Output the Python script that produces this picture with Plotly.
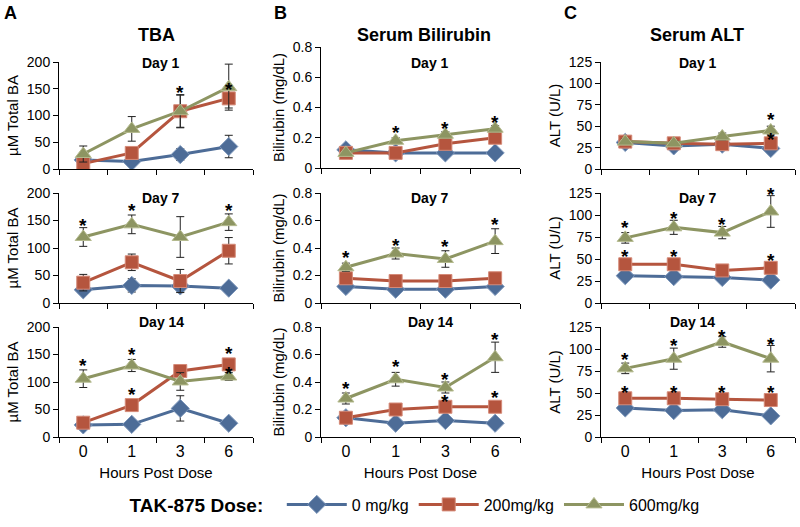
import plotly.graph_objects as go

W, H = 800, 527
hours = ["0", "1", "3", "6"]
doses = ["0 mg/kg", "200mg/kg", "600mg/kg"]

# ---- TBA (µM) ----
tba_d1_0 = [17, 14, 27, 42];    tba_d1_0_err = [8, 4, 11, 21]
tba_d1_200 = [10, 30, 108, 132]; tba_d1_200_err = [4, 6, 30, 18]
tba_d1_600 = [28, 75, 108, 153]; tba_d1_600_err = [15, 23, 31, 43]
tba_d1_stars = [("3", 150), ("6", 157)]

tba_d7_0 = [24, 32, 31, 27];     tba_d7_0_err = [7, 12, 11, 5]
tba_d7_200 = [37, 74, 40, 95];   tba_d7_200_err = [15, 15, 21, 24]
tba_d7_600 = [120, 143, 120, 147]; tba_d7_600_err = [17, 17, 37, 15]
tba_d7_stars = [("0", 148), ("1", 175), ("6", 175)]

tba_d14_0 = [22, 23, 52, 25];    tba_d14_0_err = [3, 3, 23, 4]
tba_d14_200 = [26, 58, 120, 132]; tba_d14_200_err = [5, 6, 5, 8]
tba_d14_600 = [106, 130, 101, 110]; tba_d14_600_err = [16, 11, 16, 7]
tba_d14_stars = [("0", 137), ("1", 158), ("6", 123), ("1", 85), ("6", 159)]

# ---- Serum bilirubin (mg/dL) ----
bil_d1_0 = [0.12, 0.10, 0.10, 0.10];   bil_d1_0_err = [0.01, 0.01, 0.01, 0.01]
bil_d1_200 = [0.10, 0.10, 0.16, 0.20]; bil_d1_200_err = [0.01, 0.01, 0.02, 0.02]
bil_d1_600 = [0.10, 0.18, 0.22, 0.26]; bil_d1_600_err = [0.01, 0.02, 0.02, 0.02]
bil_d1_stars = [("1", 0.26), ("3", 0.29), ("6", 0.33)]

bil_d7_0 = [0.12, 0.10, 0.10, 0.12];   bil_d7_0_err = [0.01, 0.01, 0.01, 0.01]
bil_d7_200 = [0.18, 0.16, 0.16, 0.18]; bil_d7_200_err = [0.01, 0.01, 0.01, 0.01]
bil_d7_600 = [0.26, 0.36, 0.32, 0.45]; bil_d7_600_err = [0.03, 0.04, 0.06, 0.09]
bil_d7_stars = [("0", 0.36), ("1", 0.45), ("3", 0.44), ("6", 0.60)]

bil_d14_0 = [0.14, 0.10, 0.12, 0.10];   bil_d14_0_err = [0.01, 0.01, 0.01, 0.01]
bil_d14_200 = [0.14, 0.20, 0.22, 0.22]; bil_d14_200_err = [0.02, 0.01, 0.01, 0.01]
bil_d14_600 = [0.28, 0.42, 0.36, 0.58]; bil_d14_600_err = [0.04, 0.05, 0.04, 0.11]
bil_d14_stars = [("0", 0.38), ("1", 0.54), ("3", 0.45), ("6", 0.74), ("3", 0.29), ("6", 0.32)]

# ---- Serum ALT (U/L) ----
alt_d1_0 = [31, 27, 29, 24];   alt_d1_0_err = [2, 2, 2, 2]
alt_d1_200 = [32, 30, 29, 30]; alt_d1_200_err = [2, 2, 2, 2]
alt_d1_600 = [32, 30, 38, 45]; alt_d1_600_err = [3, 3, 4, 5]
alt_d1_stars = [("6", 63), ("6", 39)]

alt_d7_0 = [31, 30, 29, 26];   alt_d7_0_err = [2, 2, 2, 2]
alt_d7_200 = [44, 44, 37, 40]; alt_d7_200_err = [3, 3, 3, 3]
alt_d7_600 = [74, 86, 80, 104]; alt_d7_600_err = [6, 8, 7, 18]
alt_d7_stars = [("0", 90), ("1", 101), ("3", 94), ("6", 128), ("0", 57), ("1", 57), ("6", 53)]

alt_d14_0 = [33, 30, 31, 24];   alt_d14_0_err = [2, 2, 2, 2]
alt_d14_200 = [44, 44, 43, 42]; alt_d14_200_err = [2, 2, 2, 2]
alt_d14_600 = [78, 89, 108, 89]; alt_d14_600_err = [6, 12, 6, 15]
alt_d14_stars = [("0", 93), ("1", 108), ("3", 119), ("6", 110),
                 ("0", 55), ("1", 55), ("3", 55), ("6", 55)]

panels = [
    ([tba_d1_0, tba_d1_200, tba_d1_600], [tba_d1_0_err, tba_d1_200_err, tba_d1_600_err], tba_d1_stars),
    ([bil_d1_0, bil_d1_200, bil_d1_600], [bil_d1_0_err, bil_d1_200_err, bil_d1_600_err], bil_d1_stars),
    ([alt_d1_0, alt_d1_200, alt_d1_600], [alt_d1_0_err, alt_d1_200_err, alt_d1_600_err], alt_d1_stars),
    ([tba_d7_0, tba_d7_200, tba_d7_600], [tba_d7_0_err, tba_d7_200_err, tba_d7_600_err], tba_d7_stars),
    ([bil_d7_0, bil_d7_200, bil_d7_600], [bil_d7_0_err, bil_d7_200_err, bil_d7_600_err], bil_d7_stars),
    ([alt_d7_0, alt_d7_200, alt_d7_600], [alt_d7_0_err, alt_d7_200_err, alt_d7_600_err], alt_d7_stars),
    ([tba_d14_0, tba_d14_200, tba_d14_600], [tba_d14_0_err, tba_d14_200_err, tba_d14_600_err], tba_d14_stars),
    ([bil_d14_0, bil_d14_200, bil_d14_600], [bil_d14_0_err, bil_d14_200_err, bil_d14_600_err], bil_d14_stars),
    ([alt_d14_0, alt_d14_200, alt_d14_600], [alt_d14_0_err, alt_d14_200_err, alt_d14_600_err], alt_d14_stars),
]

col_titles = ["TBA", "Serum Bilirubin", "Serum ALT"]
col_letters = ["A", "B", "C"]
y_titles = ["µM Total BA", "Bilirubin (mg/dL)", "ALT (U/L)"]
y_ranges = [[0, 200], [0, 0.8], [0, 125]]
y_dticks = [50, 0.2, 25]
day_labels = ["Day 1", "Day 7", "Day 14"]

colors = ["#4d6c97", "#b5553e", "#8d9562"]
edge = ["#7d97bb", "#d58a78", "#b4ba8e"]
symbols = ["diamond", "square", "triangle-up"]
sizes = [14, 13, 14]

# layout geometry (pixels)
col_x = [(59, 253), (321, 520), (601, 795)]
row_y = [(62, 169), (193, 303), (327, 437)]
row0_b = (47, 168)
day_x = [161, 430, 698]
day_x_row3_c = 692
day_y = [63, 198, 322]
title_x = [156, 424, 697]
title_y = 35
letter_x = [10, 280, 570]
letter_y = 13

FONT = "Liberation Sans, Arial, sans-serif"
fig = go.Figure()
annotations = []

def txt(x, y, s, size, **kw):
    d = dict(x=x / W, y=1 - y / H, xref="paper", yref="paper", text=s, showarrow=False,
             xanchor="center", yanchor="middle",
             font=dict(family=FONT, size=size, color="#000"))
    d.update(kw)
    return d

for k, (vals, errs, stars) in enumerate(panels):
    r, c = divmod(k, 3)
    ax = "" if k == 0 else str(k + 1)
    for i in range(3):
        fig.add_trace(go.Scatter(
            x=hours, y=vals[i], xaxis="x" + ax, yaxis="y" + ax,
            mode="lines+markers", name=doses[i], legendgroup=doses[i],
            showlegend=(k == 0),
            line=dict(color=colors[i], width=3),
            marker=dict(symbol=symbols[i], size=sizes[i], color=colors[i],
                        line=dict(color=edge[i], width=1)),
            error_y=dict(type="data", array=errs[i], visible=True,
                         color="#222222", thickness=1, width=4),
        ))
    x0, x1 = col_x[c]
    y0, y1 = row_y[r]
    if r == 0 and c == 1:
        y0, y1 = row0_b
    fig.layout["xaxis" + ax] = dict(
        domain=[x0 / W, x1 / W], anchor="y" + ax, type="category",
        categoryorder="array", categoryarray=hours, range=[-0.5, 3.5],
        tickson="boundaries", ticks="outside", ticklen=5, tickcolor="#000",
        showline=True, linecolor="#000", linewidth=1, showgrid=False,
        showticklabels=(r == 2), tickfont=dict(family=FONT, size=16, color="#000"),
        title=dict(text="Hours Post Dose" if r == 2 else "",
                   font=dict(family=FONT, size=15, color="#000"), standoff=8),
        zeroline=False, automargin=False,
    )
    fig.layout["yaxis" + ax] = dict(
        domain=[1 - y1 / H, 1 - y0 / H], anchor="x" + ax,
        range=y_ranges[c], dtick=y_dticks[c], tick0=0,
        ticks="outside", ticklen=5, tickcolor="#000",
        showline=True, linecolor="#000", linewidth=1, showgrid=False, zeroline=False,
        tickfont=dict(family=FONT, size=14, color="#000"),
        title=dict(text=y_titles[c], font=dict(family=FONT, size=15, color="#000"), standoff=4),
        automargin=False,
    )
    lo, hi = y_ranges[c]
    for (sx, sy) in stars:
        annotations.append(dict(x=hours.index(sx), y=(sy - lo) / (hi - lo),
                                xref="x" + ax, yref="y" + ax + " domain",
                                text="<b>*</b>", showarrow=False,
                                xanchor="center", yanchor="middle",
                                font=dict(family=FONT, size=19, color="#000"), yshift=-4))
    dx = day_x_row3_c if (r == 2 and c == 2) else day_x[c]
    annotations.append(txt(dx, day_y[r], "<b>%s</b>" % day_labels[r], 14))

for c in range(3):
    annotations.append(txt(title_x[c], title_y, "<b>%s</b>" % col_titles[c], 18))
    annotations.append(txt(letter_x[c], letter_y, "<b>%s</b>" % col_letters[c], 18))

fig.update_layout(
    width=W, height=H, margin=dict(l=0, r=0, t=0, b=0, autoexpand=False),
    paper_bgcolor="white", plot_bgcolor="white",
    annotations=annotations,
    showlegend=True,
    legend=dict(orientation="h", x=0.52, xanchor="center", y=1 - 505 / H, yanchor="middle",
                title=dict(text="<b>TAK-875 Dose:</b>  ", side="left",
                           font=dict(family=FONT, size=19, color="#000")),
                font=dict(family=FONT, size=16, color="#000"),
                itemwidth=60, bgcolor="rgba(0,0,0,0)"),
)

fig.write_html("out.html", config={"displayModeBar": False},
               post_script="document.body.style.margin='0';document.body.style.overflow='hidden';")
